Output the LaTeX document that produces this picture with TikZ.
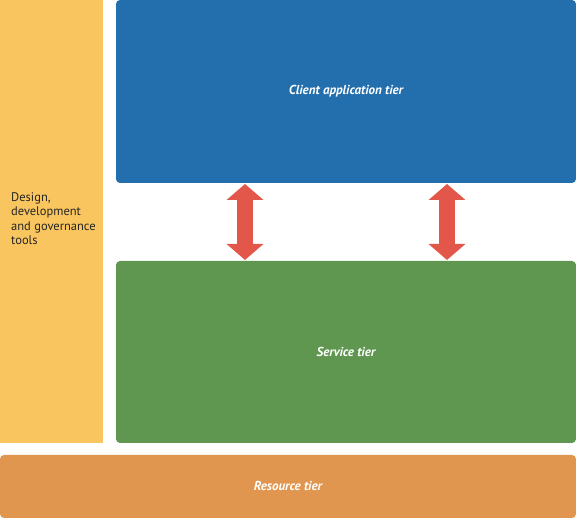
\documentclass[tikz,border=0pt]{standalone}
\usepackage{fontspec}
\setmainfont{PT Sans}
\usepackage{tikz}
\usetikzlibrary{arrows.meta,positioning}

\definecolor{toolsyellow}{HTML}{F9C55E}
\definecolor{clientblue}{HTML}{236EAC}
\definecolor{servicegreen}{HTML}{5F9750}
\definecolor{resourceorange}{HTML}{E1964F}
\definecolor{linkred}{HTML}{E3574A}

\tikzset{
	tier/.style={rounded corners=4pt,inner sep=0pt,text=white,
		font=\fontsize{13}{15}\selectfont\bfseries\itshape},
	link/.style={{Triangle[width=36pt,length=16pt]}-{Triangle[width=36pt,length=16pt]},
		draw=linkred,line width=16pt}
}

\begin{document}
\begin{tikzpicture}[x=1pt,y=1pt]
		\useasboundingbox (0,0) rectangle (576,518);

		% >>> side column
		\fill[toolsyellow] (0,75) rectangle (103,518);
		\node[anchor=north west,align=left,inner sep=0pt,text=black!85,
			font=\fontsize{12.5}{14.5}\selectfont] (tools) at (11,326)
			{Design,\\development\\and governance\\tools};
		% <<< side column

		% >>> tiers
		\fill[clientblue,rounded corners=4pt] (116,335) rectangle (576,518);
		\node[tier] (client) at (346,426.5) {Client application tier};
		\fill[servicegreen,rounded corners=4pt] (116,75) rectangle (576,257);
		\node[tier] (service) at (346,166) {Service tier};
		\fill[resourceorange,rounded corners=4pt] (0,0) rectangle (576,63);
		\node[tier] (resource) at (288,32) {Resource tier};
		% <<< tiers

		% >>> links between client and service
		\coordinate (c1) at (245,334);
		\coordinate (s1) at (245,258);
		\coordinate (c2) at (447,334);
		\coordinate (s2) at (447,258);
		\draw[link] (c1) -- (s1);
		\draw[link] (c2) -- (s2);
		% <<< links between client and service
	\end{tikzpicture}
\end{document}
